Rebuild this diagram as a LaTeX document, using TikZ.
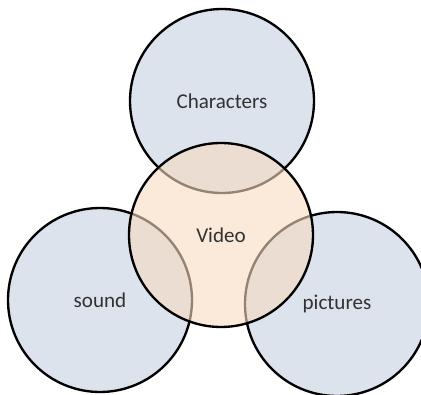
\documentclass[tikz,border=0pt]{standalone}
\usepackage{fontspec}
\setmainfont{Carlito}
\usetikzlibrary{positioning}
\definecolor{bubbleblue}{RGB}{220,227,236}
\definecolor{bubbleorange}{RGB}{248,218,193}
\definecolor{labelgray}{RGB}{50,50,50}
\tikzstyle{bubble} = [draw, circle, line width=2pt, minimum size=5.52cm, inner sep=0pt,
    text=labelgray, font=\fontsize{18}{20}\selectfont]

\begin{document}
\begin{tikzpicture}
    \useasboundingbox (0,0) rectangle (12.63,11.82);
    \clip (0,0) rectangle (12.63,11.82);

    % Outer circles
    \node[bubble, fill=bubbleblue] (characters) at (6.66,8.79) {Characters};
    \node[bubble, fill=bubbleblue] (sound) at (3.00,2.82) {sound};
    \node[bubble, fill=bubbleblue] (pictures) at (10.11,2.70) {pictures};

    % Middle circle, see-through so the other rims show
    \node[bubble, fill=bubbleorange, fill opacity=0.6, text opacity=1] (video) at (6.63,4.77) {Video};
\end{tikzpicture}
\end{document}
